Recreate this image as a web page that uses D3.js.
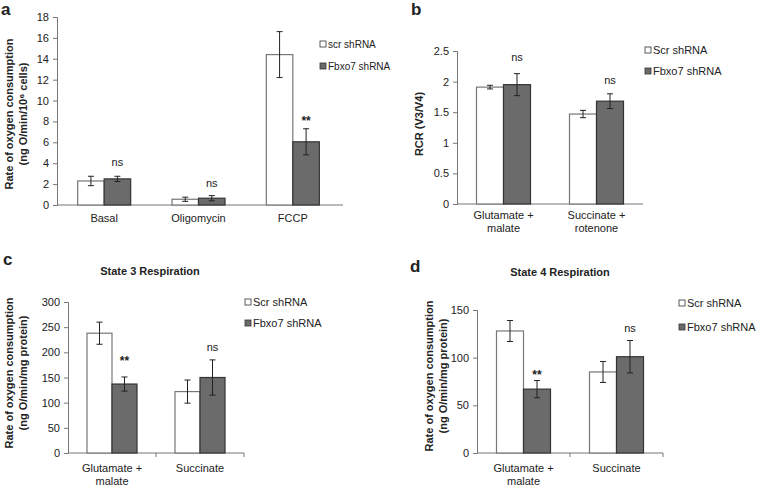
<!DOCTYPE html>
<html><head><meta charset="utf-8">
<script src="https://cdn.jsdelivr.net/npm/d3@7"></script>
<style>
body{margin:0;background:#fff;}
text{font-family:"Liberation Sans",Arial,sans-serif;fill:#222;}
</style></head>
<body><svg id="chart" width="760" height="486"></svg>
<script>
// ---------- DATA ----------
const seriesNames = ["scr shRNA", "Fbxo7 shRNA"];
const seriesNamesB = ["Scr shRNA", "Fbxo7 shRNA"];

// Panel a
const aCategories = [["Basal"], ["Oligomycin"], ["FCCP"]];
const aScr = [2.3, 0.55, 14.4];
const aScrErr = [0.45, 0.2, 2.2];
const aFbx = [2.5, 0.65, 6.05];
const aFbxErr = [0.25, 0.25, 1.25];
const aSig = ["ns", "ns", "**"];
const aSigAt = [4.1, 2.1, 8.3];
const aTicks = [0, 2, 4, 6, 8, 10, 12, 14, 16, 18];

// Panel b
const bCategories = [["Glutamate +", "malate"], ["Succinate +", "rotenone"]];
const bScr = [1.91, 1.47];
const bScrErr = [0.03, 0.06];
const bFbx = [1.95, 1.68];
const bFbxErr = [0.18, 0.12];
const bSig = ["ns", "ns"];
const bSigAt = [2.4, 2.01];
const bTicks = [0, 0.5, 1, 1.5, 2, 2.5];

// Panel c
const cCategories = [["Glutamate +", "malate"], ["Succinate"]];
const cScr = [238, 122];
const cScrErr = [22, 23];
const cFbx = [137, 150];
const cFbxErr = [14, 35];
const cSig = ["**", "ns"];
const cSigAt = [189, 209];
const cTicks = [0, 50, 100, 150, 200, 250, 300];

// Panel d
const dCategories = [["Glutamate +", "malate"], ["Succinate"]];
const dScr = [128, 85];
const dScrErr = [11, 11];
const dFbx = [67, 101];
const dFbxErr = [9, 17];
const dSig = ["**", "ns"];
const dSigAt = [85, 131];
const dTicks = [0, 50, 100, 150];

// ---------- DRAW ----------
const svg = d3.select("#chart");
const GREY = "#6b6b6b";

function panel(o) {
  const g = svg.append("g");
  const y = d3.scaleLinear().domain([0, o.max]).range([o.bottom, o.top]);
  const x = d3.scaleBand().domain(d3.range(o.cats.length)).range([o.left, o.right]);
  const bw = o.bw;

  // y axis
  const ya = d3.axisLeft(y).tickValues(o.ticks).tickSize(4).tickPadding(4)
    .tickFormat(d => String(d));
  const yg = g.append("g").attr("transform", `translate(${o.left},0)`).call(ya);
  yg.select(".domain").attr("stroke", "#777");
  yg.selectAll(".tick line").attr("stroke", "#777");
  yg.selectAll(".tick text").attr("font-size", 11).attr("fill", "#222")
    .attr("font-family", "Liberation Sans, Arial, sans-serif");

  // x axis line
  g.append("line").attr("x1", o.left).attr("x2", o.axisEnd)
    .attr("y1", o.bottom).attr("y2", o.bottom).attr("stroke", "#777");
  if (o.xticks) {
    const bounds = d3.range(o.cats.length + 1).map(i => o.left + i * x.step());
    g.selectAll(".xt").data(bounds.slice(1)).enter().append("line")
      .attr("x1", d => d).attr("x2", d => d)
      .attr("y1", o.bottom).attr("y2", o.bottom + 4).attr("stroke", "#777");
  }

  const c = i => x(i) + x.bandwidth() / 2;
  // bars
  const series = [
    {vals: o.scr, err: o.scrErr, fill: "#fff", stroke: "#777", off: -bw},
    {vals: o.fbx, err: o.fbxErr, fill: GREY, stroke: "#333", off: 0}
  ];
  series.forEach(s => {
    g.selectAll(null).data(s.vals).enter().append("rect")
      .attr("x", (d, i) => c(i) + s.off)
      .attr("y", d => y(d)).attr("width", bw)
      .attr("height", d => y(0) - y(d))
      .attr("fill", s.fill).attr("stroke", s.stroke).attr("stroke-width", 1.2);
    const eb = g.selectAll(null).data(s.vals).enter().append("g");
    eb.append("line")
      .attr("x1", (d, i) => c(i) + s.off + bw / 2).attr("x2", (d, i) => c(i) + s.off + bw / 2)
      .attr("y1", (d, i) => y(d - s.err[i])).attr("y2", (d, i) => y(d + s.err[i]))
      .attr("stroke", "#222").attr("stroke-width", 1);
    [-1, 1].forEach(sg => {
      eb.append("line")
        .attr("x1", (d, i) => c(i) + s.off + bw / 2 - 3).attr("x2", (d, i) => c(i) + s.off + bw / 2 + 3)
        .attr("y1", (d, i) => y(d + sg * s.err[i])).attr("y2", (d, i) => y(d + sg * s.err[i]))
        .attr("stroke", "#222").attr("stroke-width", 1);
    });
  });

  // significance labels
  g.selectAll(null).data(o.sig).enter().append("text")
    .attr("x", (d, i) => c(i) + bw / 2)
    .attr("y", (d, i) => y(o.sigAt[i]) + (d === "**" ? 7 : 3.5))
    .attr("text-anchor", "middle")
    .attr("font-size", d => d === "**" ? 12 : 11)
    .attr("font-weight", d => d === "**" ? "bold" : "normal")
    .text(d => d);

  // x category labels
  o.cats.forEach((lines, i) => {
    lines.forEach((t, k) => {
      g.append("text").attr("x", c(i)).attr("y", o.labelY + k * 13)
        .attr("text-anchor", "middle").attr("font-size", 11).text(t);
    });
  });

  // y title
  o.ytitle.forEach((t, k) => {
    g.append("text")
      .attr("transform", `translate(${o.ytitleX[k]},${o.ytitleY}) rotate(-90)`)
      .attr("text-anchor", "middle").attr("font-size", 11).attr("font-weight", "bold")
      .text(t);
  });

  // legend
  o.legendNames.forEach((t, k) => {
    const ly = o.legendY + k * o.legendGap;
    g.append("rect").attr("x", o.legendX).attr("y", ly - 7).attr("width", 6).attr("height", 6)
      .attr("fill", k === 0 ? "#fff" : GREY).attr("stroke", "#333").attr("stroke-width", 0.8);
    g.append("text").attr("x", o.legendX + 8).attr("y", ly)
      .attr("font-size", o.legendFont).attr("font-family", o.legendFamily || null)
      .text(t);
  });

  // panel letter and title
  g.append("text").attr("x", o.letterX).attr("y", o.letterY)
    .attr("font-size", 17).attr("font-weight", "bold").attr("fill", "#111").text(o.letter);
  if (o.title) {
    g.append("text").attr("x", o.titleX).attr("y", o.titleY).attr("text-anchor", "middle")
      .attr("font-size", 11).attr("font-weight", "bold").text(o.title);
  }
}

panel({
  cats: aCategories, scr: aScr, scrErr: aScrErr, fbx: aFbx, fbxErr: aFbxErr,
  sig: aSig, sigAt: aSigAt, ticks: aTicks, max: 18,
  left: 57, right: 340, axisEnd: 343, top: 17, bottom: 205, bw: 26.5,
  labelY: 222, ytitle: ["Rate of oxygen consumption", "(ng O/min/10\u2076 cells)"],
  ytitleX: [13, 27], ytitleY: 114,
  legendNames: seriesNames, legendX: 320, legendY: 48, legendGap: 22, legendFont: 10,
  legendFamily: "Open Sans, sans-serif",
  letter: "a", letterX: 1, letterY: 15
});

panel({
  cats: bCategories, scr: bScr, scrErr: bScrErr, fbx: bFbx, fbxErr: bFbxErr,
  sig: bSig, sigAt: bSigAt, ticks: bTicks, max: 2.5,
  left: 457, right: 643, axisEnd: 643, top: 51, bottom: 204, bw: 27,
  labelY: 219, ytitle: ["RCR (V3/V4)"], ytitleX: [423], ytitleY: 124,
  legendNames: seriesNamesB, legendX: 645, legendY: 54, legendGap: 21, legendFont: 11,
  letter: "b", letterX: 411, letterY: 15
});

panel({
  cats: cCategories, scr: cScr, scrErr: cScrErr, fbx: cFbx, fbxErr: cFbxErr,
  sig: cSig, sigAt: cSigAt, ticks: cTicks, max: 300,
  left: 68, right: 244, axisEnd: 244, top: 302, bottom: 453, bw: 25, xticks: true,
  labelY: 472, ytitle: ["Rate of oxygen consumption", "(ng O/min/mg protein)"],
  ytitleX: [13, 27], ytitleY: 373,
  legendNames: seriesNamesB, legendX: 245, legendY: 306, legendGap: 21, legendFont: 11,
  letter: "c", letterX: 3, letterY: 265,
  title: "State 3 Respiration", titleX: 150, titleY: 275
});

panel({
  cats: dCategories, scr: dScr, scrErr: dScrErr, fbx: dFbx, fbxErr: dFbxErr,
  sig: dSig, sigAt: dSigAt, ticks: dTicks, max: 150,
  left: 477, right: 663, axisEnd: 663, top: 310, bottom: 453, bw: 27, xticks: true,
  labelY: 472, ytitle: ["Rate of oxygen consumption", "(ng O/min/mg protein)"],
  ytitleX: [433, 447], ytitleY: 376,
  legendNames: seriesNamesB, legendX: 679, legendY: 307, legendGap: 24, legendFont: 11,
  letter: "d", letterX: 410, letterY: 272,
  title: "State 4 Respiration", titleX: 560, titleY: 276
});
</script></body></html>
